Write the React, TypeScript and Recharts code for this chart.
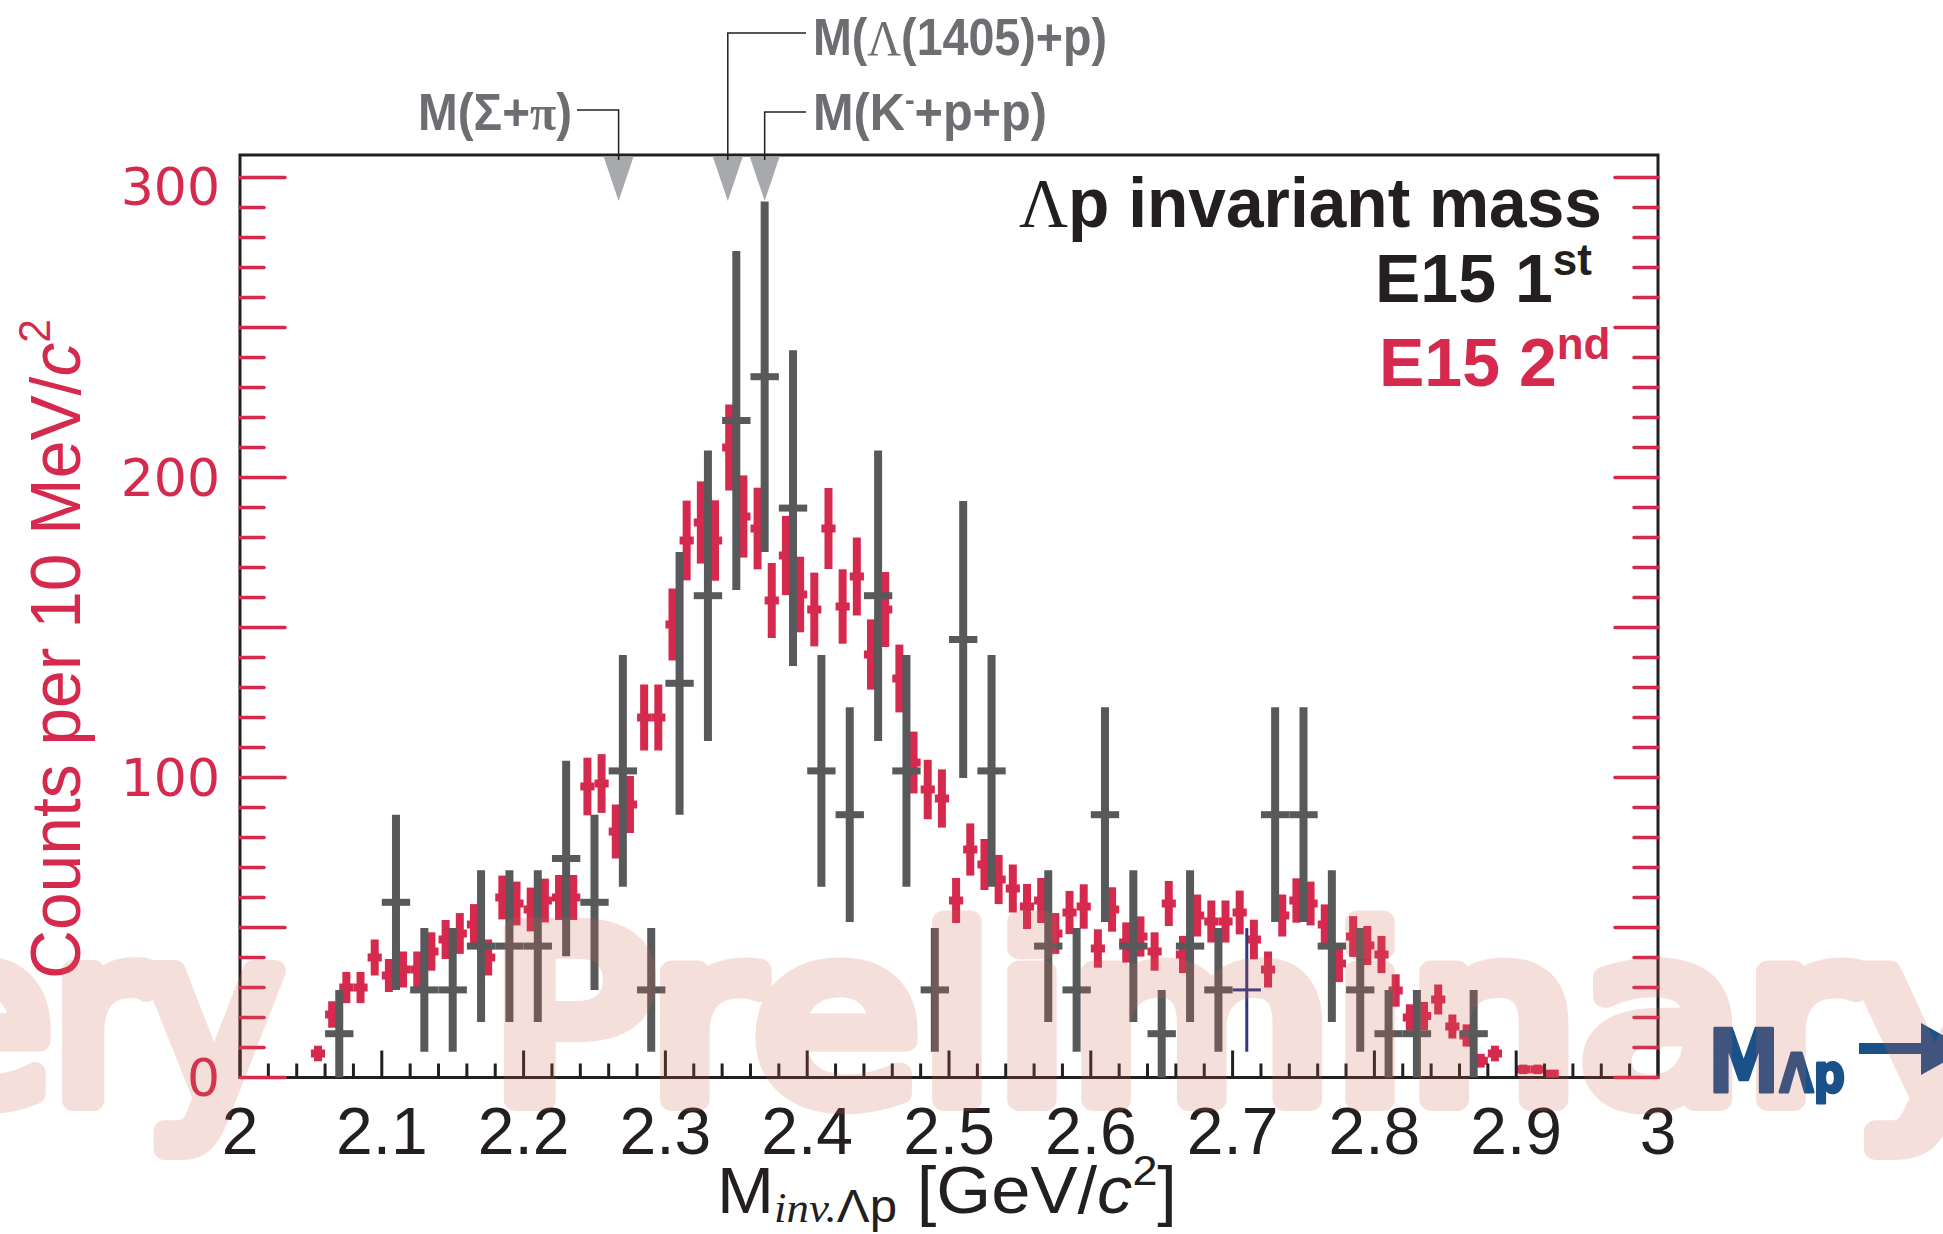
import React from 'react';
import { ComposedChart, Scatter, XAxis, YAxis, ErrorBar, ReferenceArea, ReferenceDot } from 'recharts';

const W = 1943;
const H = 1234;
const PLOT_LEFT = 240;
const PLOT_RIGHT = 1658;
const PLOT_TOP = 155;
const PLOT_BOTTOM = 1077.5;
const Y_MAX = 307.5;
const AXIS_BAND = 40;

const RED = '#d6294e';
const GRAY = '#58595b';
const NAVY = '#2e3785';
const INK = '#231f20';
const LABEL_GRAY = '#6d6e71';
const TRI_GRAY = '#a7a9ac';
const BLUE = '#1b5189';
const SANS = '"Liberation Sans", Arial, Helvetica, sans-serif';
const SERIF = '"Liberation Serif", "Times New Roman", serif';

// E15 2nd run, 10 MeV bins (red)
const redMass = [
  2.055, 2.065, 2.075, 2.085, 2.095, 2.105, 2.115, 2.125, 2.135, 2.145,
  2.155, 2.165, 2.175, 2.185, 2.195, 2.205, 2.215, 2.225, 2.235, 2.245,
  2.255, 2.265, 2.275, 2.285, 2.295, 2.305, 2.315, 2.325, 2.335, 2.345,
  2.355, 2.365, 2.375, 2.385, 2.395, 2.405, 2.415, 2.425, 2.435, 2.445,
  2.455, 2.465, 2.475, 2.485, 2.495, 2.505, 2.515, 2.525, 2.535, 2.545,
  2.555, 2.565, 2.575, 2.585, 2.595, 2.605, 2.615, 2.625, 2.635, 2.645,
  2.655, 2.665, 2.675, 2.685, 2.695, 2.705, 2.715, 2.725, 2.735, 2.745,
  2.755, 2.765, 2.775, 2.785, 2.795, 2.805, 2.815, 2.825, 2.835, 2.845,
  2.855, 2.865, 2.875, 2.885, 2.905, 2.915, 2.925,
];
const redCounts = [
  8, 21, 30, 30, 40, 34, 36, 36, 42, 46,
  48, 51, 40, 60, 58, 56, 59, 60, 60, 97,
  98, 82, 91, 120, 120, 151, 179, 185, 179, 210,
  187, 183, 159, 174, 161, 156, 183, 157, 167, 141,
  156, 133, 105, 96, 93, 59, 76, 71, 66, 63,
  57, 59, 48, 55, 57, 43, 56, 45, 47, 42,
  58, 41, 54, 52, 52, 55, 46, 36, 54, 59,
  58, 51, 38, 47, 44, 41, 29, 20, 20.5, 26,
  17, 14, 5.6, 8, 2.7, 2.7, 1.3,
];
const redErr = [
  2.6, 4.4, 5.2, 5.2, 6, 5.5, 6, 6, 6.4, 6.5,
  6.8, 6.8, 6, 7.3, 7.3, 7.3, 7.3, 7.5, 7.5, 9.6,
  9.8, 9, 9.5, 11, 11, 12, 13.3, 13.7, 13.4, 14.3,
  13.7, 13.6, 12.5, 13.2, 12.6, 12.3, 13.5, 12.4, 13, 11.7,
  12.5, 11.3, 10.3, 9.9, 9.7, 7.5, 8.7, 8.5, 8.2, 8,
  7.5, 7.5, 6.8, 7.2, 7.4, 6.4, 7.4, 6.7, 6.7, 6.4,
  7.5, 6.2, 7, 7, 7, 7.3, 6.6, 6, 7, 7.4,
  7.3, 6.7, 6.2, 6.8, 6.5, 6.2, 5.4, 4.4, 4.7, 5,
  4, 3.7, 2.3, 2.6, 1.6, 1.6, 1.1,
];

// E15 1st run, 20 MeV bins (gray)
const grayMass = [
  2.07, 2.11, 2.13, 2.15, 2.17, 2.19, 2.21, 2.23, 2.25, 2.27,
  2.29, 2.31, 2.33, 2.35, 2.37, 2.39, 2.41, 2.43, 2.45, 2.47,
  2.49, 2.51, 2.53, 2.57, 2.59, 2.61, 2.63, 2.65, 2.67, 2.69,
  2.73, 2.75, 2.77, 2.79, 2.81, 2.83, 2.87,
];
const grayCounts = [
  14.6, 58.4, 29.2, 29.2, 43.8, 43.8, 43.8, 73, 58.4, 102.2,
  29.2, 131.4, 160.6, 219, 233.6, 189.8, 102.2, 87.6, 160.6, 102.2,
  29.2, 146, 102.2, 43.8, 29.2, 87.6, 43.8, 14.6, 43.8, 29.2,
  87.6, 87.6, 43.8, 29.2, 14.6, 14.6, 14.6,
];
const grayErr = [
  14.6, 29.2, 20.6, 20.6, 25.3, 25.3, 25.3, 32.6, 29.2, 38.6,
  20.6, 43.8, 48.4, 56.5, 58.4, 52.6, 38.6, 35.8, 48.4, 38.6,
  20.6, 46.2, 38.6, 25.3, 20.6, 35.8, 25.3, 14.6, 25.3, 20.6,
  35.8, 35.8, 25.3, 20.6, 14.6, 14.6, 14.6,
];

// one bin drawn thin in navy
const navyMass = [2.71];
const navyCounts = [29.2];
const navyErr = [20.6];

// kinematic thresholds marked on top
const thresholdMass = [2.267, 2.344, 2.37];

const xMajorTicks = [2, 2.1, 2.2, 2.3, 2.4, 2.5, 2.6, 2.7, 2.8, 2.9, 3];
const xTickLabels = ['2', '2.1', '2.2', '2.3', '2.4', '2.5', '2.6', '2.7', '2.8', '2.9', '3'];
const yLabelValues = [0, 100, 200, 300];

const xTicks = Array.from({ length: 51 }, (_, i) => +(2 + i * 0.02).toFixed(2));
const yTicks = Array.from({ length: 31 }, (_, i) => i * 10);

const redData = redMass.map((x, i) => ({ x, y: redCounts[i], ey: redErr[i], ex: 0.005 }));
const grayData = grayMass.map((x, i) => ({ x, y: grayCounts[i], ey: grayErr[i], ex: 0.01 }));
const navyData = navyMass.map((x, i) => ({ x, y: navyCounts[i], ey: navyErr[i], ex: 0.01 }));

const THRESHOLD_LAYOUT = [
  { lineY: 110, elbowX: 577, textX: 572, textY: 130, anchor: 'end', len: 154 },
  { lineY: 33, elbowX: 806, textX: 813, textY: 55, anchor: 'start', len: 294 },
  { lineY: 112, elbowX: 806, textX: 813, textY: 130, anchor: 'start', len: 234 },
];

const thresholdLabel = (i: number) => {
  if (i === 0) return (<>M(Σ+<tspan fontFamily={SERIF}>π</tspan>)</>);
  if (i === 1) return (<>M(<tspan fontFamily={SERIF} fontWeight="normal">Λ</tspan>(1405)+p)</>);
  return (<>M(K<tspan fontSize={30} dy={-20}>-</tspan><tspan dy={20}>+p+p)</tspan></>);
};

const Threshold = ({ cx, cy, i }: any) => {
  const L = THRESHOLD_LAYOUT[i];
  return (
    <g>
      <polygon points={`${cx - 15},${cy + 1.5} ${cx + 15},${cy + 1.5} ${cx},${cy + 46}`} fill={TRI_GRAY} />
      <polyline points={`${L.elbowX},${L.lineY} ${cx},${L.lineY} ${cx},${cy + 5}`} fill="none" stroke={INK} strokeWidth={1.5} />
      <text x={L.textX} y={L.textY} textAnchor={L.anchor} fontFamily={SANS} fontWeight="bold" fontSize={51}
        fill={LABEL_GRAY} textLength={L.len} lengthAdjust="spacingAndGlyphs">
        {thresholdLabel(i)}
      </text>
    </g>
  );
};

const XTick = (props: any) => {
  const { x, payload } = props;
  const v = payload.value;
  const major = Math.abs(v * 10 - Math.round(v * 10)) < 1e-6;
  const li = xMajorTicks.findIndex((t) => Math.abs(t - v) < 1e-6);
  return (
    <g>
      <line x1={x} x2={x} y1={PLOT_BOTTOM} y2={PLOT_BOTTOM - (major ? 27 : 14)} stroke={INK} strokeWidth={3} />
      {li >= 0 && (
        <text x={x} y={PLOT_BOTTOM + 76} textAnchor="middle" fontSize={66} fontFamily={SANS} fill={INK}>
          {xTickLabels[li]}
        </text>
      )}
    </g>
  );
};

const YTick = (props: any) => {
  const { y, payload } = props;
  const v = payload.value;
  const major = v % 50 === 0;
  const li = yLabelValues.indexOf(v);
  return (
    <g>
      <line x1={PLOT_LEFT} x2={PLOT_LEFT + (major ? 45 : 24)} y1={y} y2={y} stroke={RED} strokeWidth={3.5} strokeLinecap="round" />
      <line x1={PLOT_RIGHT} x2={PLOT_RIGHT - (major ? 43 : 24)} y1={y} y2={y} stroke={RED} strokeWidth={3.5} strokeLinecap="round" />
      {li >= 0 && (
        <text x={220} y={y + 18 + (v === 300 ? 9 : 0)} textAnchor="end" fontSize={52}
          fontFamily='"DejaVu Sans", sans-serif' fill={RED}>
          {v}
        </text>
      )}
    </g>
  );
};

const noMarker = () => <g />;

const Overlay = () => (
  <svg width={W} height={H} style={{ position: 'absolute', left: 0, top: 0, pointerEvents: 'none' }}>
    {/* legend block */}
    <text x={1019} y={227} fontSize={70} fontWeight="bold" fontFamily={SANS} fill={INK} textLength={583} lengthAdjust="spacingAndGlyphs">
      <tspan fontFamily={SERIF} fontWeight="normal">Λ</tspan>p invariant mass
    </text>
    <text x={1375} y={302} fontSize={68} fontWeight="bold" fontFamily={SANS} fill={INK}>
      E15 1<tspan fontSize={44} dy={-27}>st</tspan>
    </text>
    <text x={1379} y={386} fontSize={68} fontWeight="bold" fontFamily={SANS} fill={RED}>
      E15 2<tspan fontSize={44} dy={-27}>nd</tspan>
    </text>

    {/* axis titles */}
    <text x={80} y={649} transform="rotate(-90 80 649)" textAnchor="middle" fontSize={70} fontFamily={SANS} fill={RED}
      textLength={660} lengthAdjust="spacingAndGlyphs">
      Counts per 10 MeV/<tspan fontStyle="italic">c</tspan><tspan fontSize={44} dy={-30}>2</tspan>
    </text>
    <text x={717} y={1213} fontSize={64} fontFamily={SANS} fill={INK} textLength={460} lengthAdjust="spacingAndGlyphs">
      M<tspan fontFamily={SERIF} fontStyle="italic" fontSize={42} dy={9}>inv.</tspan>
      <tspan fontSize={46}>Λp</tspan>
      <tspan dy={-9} fontSize={66}> [GeV/</tspan><tspan fontSize={66} fontStyle="italic">c</tspan>
      <tspan fontSize={42} dy={-28}>2</tspan><tspan fontSize={66} dy={28}>]</tspan>
    </text>

    {/* M_Λp arrow */}
    <text x={1708} y={1092} fill={BLUE} stroke={BLUE} strokeWidth={3} strokeLinejoin="round" fontWeight="bold"
      fontFamily='"DejaVu Sans", sans-serif' textLength={137} lengthAdjust="spacingAndGlyphs">
      <tspan fontSize={88}>M</tspan><tspan fontSize={54}>Λp</tspan>
    </text>
    <rect x={1859} y={1043} width={66} height={11} fill={BLUE} />
    <polygon points="1921,1023 1921,1075 1968,1049" fill={BLUE} />

    {/* watermark */}
    <g opacity={0.2} fill="#d26450" stroke="#d26450" strokeWidth={22} strokeLinejoin="round" strokeLinecap="round"
      fontFamily='"DejaVu Sans", sans-serif' fontSize={235}>
      <text x={282} y={1100} textAnchor="end" textLength={510} lengthAdjust="spacingAndGlyphs">Very</text>
      <text x={490} y={1100} textLength={1525} lengthAdjust="spacingAndGlyphs">Preliminary</text>
    </g>
  </svg>
);

export default function App() {
  return (
    <div style={{ position: 'absolute', left: 0, top: 0, width: W, height: H, background: '#fff', fontFamily: SANS }}>
      <ComposedChart
        width={W}
        height={H}
        margin={{ top: PLOT_TOP, right: W - PLOT_RIGHT, bottom: H - PLOT_BOTTOM - AXIS_BAND, left: PLOT_LEFT - AXIS_BAND }}
      >
        <XAxis dataKey="x" type="number" domain={[2, 3]} allowDataOverflow ticks={xTicks} interval={0}
          height={AXIS_BAND} tickSize={0} tickMargin={0} axisLine={false} tickLine={false} tick={(p: any) => <XTick {...p} />} />
        <YAxis type="number" domain={[0, Y_MAX]} allowDataOverflow ticks={yTicks} interval={0}
          width={AXIS_BAND} tickSize={0} tickMargin={0} axisLine={false} tickLine={false} tick={(p: any) => <YTick {...p} />} />

        <Scatter data={redData} dataKey="y" shape={noMarker} isAnimationActive={false}>
          <ErrorBar dataKey="ey" direction="y" width={0} stroke={RED} strokeWidth={8} isAnimationActive={false} />
          <ErrorBar dataKey="ex" direction="x" width={0} stroke={RED} strokeWidth={8} isAnimationActive={false} />
        </Scatter>
        <Scatter data={grayData} dataKey="y" shape={noMarker} isAnimationActive={false}>
          <ErrorBar dataKey="ey" direction="y" width={0} stroke={GRAY} strokeWidth={8} isAnimationActive={false} />
          <ErrorBar dataKey="ex" direction="x" width={0} stroke={GRAY} strokeWidth={7} isAnimationActive={false} />
        </Scatter>
        <Scatter data={navyData} dataKey="y" shape={noMarker} isAnimationActive={false}>
          <ErrorBar dataKey="ey" direction="y" width={0} stroke={NAVY} strokeWidth={3} isAnimationActive={false} />
          <ErrorBar dataKey="ex" direction="x" width={0} stroke={NAVY} strokeWidth={3} isAnimationActive={false} />
        </Scatter>

        <ReferenceArea x1={2} x2={3} y1={0} y2={Y_MAX} fill="none" stroke={INK} strokeWidth={3} ifOverflow="visible" />

        {thresholdMass.map((m, i) => (
          <ReferenceDot key={i} x={m} y={Y_MAX} r={0} ifOverflow="visible"
            shape={(p: any) => <Threshold cx={p.cx} cy={p.cy} i={i} />} />
        ))}
      </ComposedChart>
      <Overlay />
    </div>
  );
}
